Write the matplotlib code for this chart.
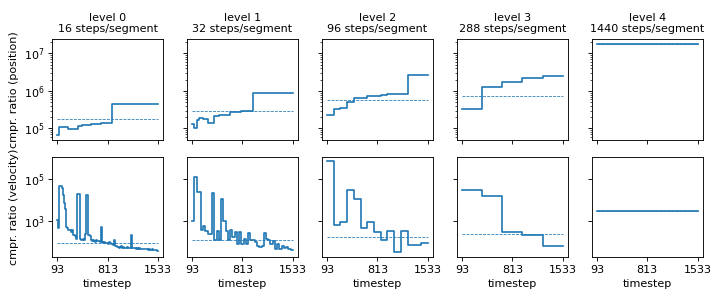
import numpy as np
import matplotlib
matplotlib.use('Agg')
import matplotlib.pyplot as plt

# Levels and segment sizes
levels = [0, 1, 2, 3, 4]
steps_per_segment = [16, 32, 96, 288, 1440]
t_start = 93
x_ticks = [93, 813, 1533]

# Compression ratio (position) per segment
pos_l0 = ([6.7e4] * 2 + [1.1e5] * 8 + [9.5e4] * 9 + [1.17e5] * 3 + [1.25e5] * 2 + [1.22e5] * 6
          + [1.35e5] * 9 + [1.42e5] * 10 + [4.57e5] * 41)
pos_l1 = ([1.35e5, 1.04e5, 1.66e5, 1.95e5, 1.95e5, 1.76e5, 1.76e5] + [1.44e5] * 3 + [2.18e5] * 2
          + [2.34e5] * 5 + [2.7e5] * 5 + [2.86e5] * 3 + [3.0e5] * 2 + [8.85e5] * 18)
pos_l2 = [2.24e5, 3.3e5, 3.6e5, 5.0e5, 6.4e5, 6.4e5, 7.5e5, 7.5e5, 7.9e5, 8.3e5,
          8.5e5, 8.5e5, 2.57e6, 2.57e6, 2.57e6]
pos_l3 = [3.3e5, 1.24e6, 1.68e6, 2.24e6, 2.48e6]
pos_l4 = [1.8e7]
pos_overall = [1.76e5, 2.86e5, 5.7e5, 7.1e5, 1.8e7]

# Compression ratio (velocity) per segment
vel_l0 = ([1.1e3, 460, 4.6e4, 4.6e4, 3.8e4, 1.8e4, 7.4e3, 3.6e3, 490, 450,
           350, 380, 300, 350, 220, 200, 180, 140, 2e4, 2e4,
           130, 120, 125, 130, 120, 240, 1.8e4, 1.8e4, 200, 180,
           115, 105, 120, 110, 100, 115, 105, 110, 100, 525,
           95, 90, 100, 85, 90, 80, 95, 85, 80, 75,
           70, 125, 60, 55, 58, 52, 55, 60, 50, 55,
           52, 50, 55, 48, 52, 50, 215, 50, 48, 52,
           46, 50, 45, 48, 44, 46, 42, 45, 44, 42,
           44, 40, 43, 41, 40, 42, 39, 40, 38, 37])
vel_l1 = [1e3, 1.35e5, 2.4e4, 2.4e4, 370, 590, 340, 240, 240, 2.2e4,
          115, 340, 115, 1.07e4, 1e3, 340, 115, 370, 165, 275,
          74, 275, 80, 140, 80, 255, 115, 115, 95, 60,
          55, 65, 255, 140, 115, 74, 105, 44, 80, 44,
          65, 47, 58, 42, 40]
vel_l2 = [7.4e5, 660, 910, 2.9e4, 1.07e4, 440, 850, 280, 120, 310,
          30, 340, 68, 70, 89]
vel_l3 = [3.2e4, 1.5e4, 275, 205, 60]
vel_l4 = [3.0e3]
vel_overall = [85, 115, 160, 240, 3.0e3]

pos_data = [pos_l0, pos_l1, pos_l2, pos_l3, pos_l4]
vel_data = [vel_l0, vel_l1, vel_l2, vel_l3, vel_l4]

# drawn at 80 dpi so the default 10pt text comes out at the reference's size
fig, axes = plt.subplots(2, 5, figsize=(723 / 80, 301 / 80), dpi=80, sharex=True, sharey='row')
fig.subplots_adjust(left=0.072, right=0.972, top=0.870, bottom=0.146, wspace=0.216, hspace=0.17)

for col in range(5):
    seg = steps_per_segment[col]
    for row, (data, overall) in enumerate([(pos_data, pos_overall), (vel_data, vel_overall)]):
        ax = axes[row, col]
        vals = np.array(data[col])
        x = t_start + seg * np.arange(len(vals) + 1)
        y = np.append(vals, vals[-1])
        ax.plot(x, y, drawstyle='steps-post', color='C0', lw=1.5)
        ax.plot([x[0], x[-1]], [overall[col], overall[col]], '--', color='C0', lw=0.7)
        ax.set_yscale('log')
    axes[0, col].set_title(f'level {levels[col]}\n{seg} steps/segment', fontsize=10)
    axes[1, col].set_xlabel('timestep')
    axes[1, col].set_xticks(x_ticks)

axes[0, 0].set_ylabel('cmpr. ratio (position)')
axes[1, 0].set_ylabel('cmpr. ratio (velocity)')

plt.savefig('out.png', dpi=80)
